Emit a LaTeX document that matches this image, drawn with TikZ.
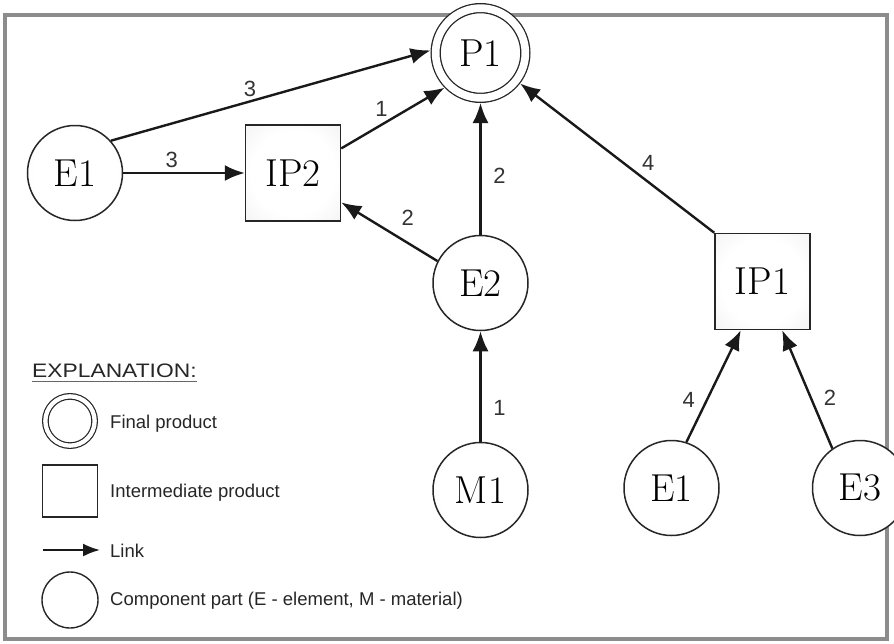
\documentclass[tikz,border=0pt]{standalone}
\usepackage{fontspec}
\usepackage{graphicx}
\newfontfamily\lblfont{Liberation Sans}
\usetikzlibrary{arrows.meta}
\pgfdeclareradialshading{softball}{\pgfpoint{0bp}{0bp}}{color(0bp)=(white); color(22bp)=(white); color(50bp)=(black!9); color(72bp)=(black!9)}
\begin{document}
\begin{tikzpicture}[x=1pt,y=-1pt,
  nodefont/.style={font=\fontsize{39}{40}\selectfont},
  comp/.style={circle, draw=black!85, line width=1.5pt, minimum size=95pt, inner sep=0pt,
    shading=softball, nodefont},
  inter/.style={rectangle, draw=black!85, line width=1.5pt, minimum width=95pt, minimum height=96pt,
    inner sep=0pt, shading=softball, nodefont},
  final/.style={circle, draw=black!85, line width=1.3pt, double=white, double distance=7.7pt,
    minimum size=89.7pt, inner sep=0pt, outer sep=5.15pt, shading=softball, nodefont},
  link/.style={line width=2.4pt, draw=black!90, -{Latex[length=20pt,width=16pt]}},
  lbl/.style={font=\lblfont\fontsize{22}{22}\selectfont, text=black!80, inner sep=0pt},
  legtext/.style={font=\lblfont\fontsize{18.5}{20}\selectfont, text=black!85, inner sep=0pt, anchor=base west},
  legfinal/.style={circle, draw=black!85, line width=1.2pt, double=white, double distance=4.3pt,
    minimum size=49.3pt, inner sep=0pt, fill=white},
  leginter/.style={rectangle, draw=black!85, line width=1.4pt, minimum width=55pt, minimum height=52pt,
    inner sep=0pt, fill=white},
  legcomp/.style={circle, draw=black!85, line width=1.4pt, minimum size=56pt, inner sep=0pt, fill=white},
  legarrow/.style={line width=2pt, draw=black!90, -{Latex[length=17pt,width=13pt]}},
]
\useasboundingbox (0,0) rectangle (894,643);
\draw[black!45, line width=4pt] (5,15) rectangle (887,639);

% main nodes
\node[final] (p1) at (480.5,53) {P1};
\node[comp] (e1) at (75,173) {E1};
\node[inter] (ip2) at (293,173) {IP2};
\node[comp] (e2) at (480.5,283) {E2};
\node[comp] (m1) at (480.5,490) {M1};
\node[inter] (ip1) at (762.5,281.5) {IP1};
\node[comp] (e1b) at (671.5,488) {E1};
\node[comp] (e3) at (860,488) {E3};

% links
\draw[link] (e1.42) -- node[lbl, pos=0.435, shift={(0,-12)}] {3} (p1.177);
\draw[link] (e1) -- node[lbl, pos=0.4, shift={(0,-13)}] {3} (ip2);
\draw[link] (ip2.27) -- node[lbl, pos=0.39, shift={(0,-16)}] {1} (p1.224);
\draw[link] (e2.153) -- node[lbl, pos=0.31, shift={(0,-25)}] {2} (ip2);
\draw[link] (e2) -- node[lbl, pos=0.45, shift={(19,0)}] {2} (p1);
\draw[link] (m1) -- node[lbl, pos=0.31, shift={(19,0)}] {1} (e2);
\draw[link] (ip1.north west) -- node[lbl, pos=0.34, shift={(0,-19)}] {4} (p1);
\draw[link] (e1b.72) -- node[lbl, pos=0.376, shift={(-18,0)}] {4} (ip1.-114);
\draw[link] (e3.125) -- node[lbl, pos=0.426, shift={(19,0)}] {2} (ip1.-68);

% legend
\node[legtext, font=\lblfont\fontsize{19.5}{20}\selectfont] (expl) at (32,377) {\scalebox{1.17}[1]{EXPLANATION:}};
\draw[black!60, line width=0.9pt] ([yshift=-4pt]expl.base west) -- ([yshift=-4pt]expl.base east);
\node[legfinal] (lf) at (70,421) {};
\node[leginter] (li) at (70,491) {};
\coordinate (la) at (43,550);
\coordinate (lb) at (100,550);
\draw[legarrow] (la) -- (lb);
\node[legcomp] (lc) at (70,600) {};
\node[legtext] (tf) at (110,428) {Final product};
\node[legtext] (ti) at (110,497) {Intermediate product};
\node[legtext] (tl) at (110,557) {Link};
\node[legtext] (tc) at (110,605) {Component part (E - element, M - material)};
\end{tikzpicture}
\end{document}
